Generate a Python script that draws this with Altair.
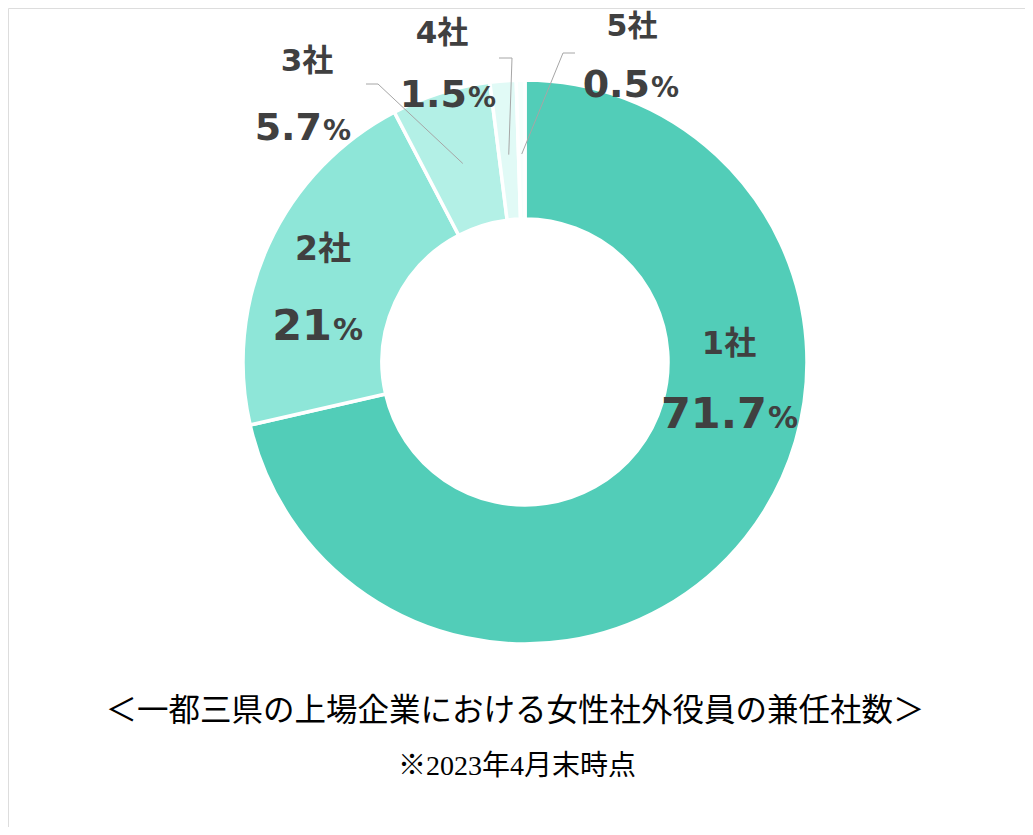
import math
import altair as alt
import pandas as pd

# ---- data ----
categories = ["1社", "2社", "3社", "4社", "5社"]
shares = [71.7, 21, 5.7, 1.5, 0.5]
share_texts = ["71.7", "21", "5.7", "1.5", "0.5"]
colors = ["#52CDB8", "#8EE6D8", "#B3F0E6", "#E1FAF6", "#F7FFFD"]

title_text = "＜一都三県の上場企業における女性社外役員の兼任社数＞"
note_text = "※2023年4月末時点"

# ---- layout (chart pixel space) ----
W, H = 1017, 819
CX, CY = 517, 354
R_OUT, R_IN = 282, 143
LABEL_FONT = "'DejaVu Sans', 'Noto Sans CJK JP', sans-serif"
TEXT_COLOR = "#404040"

# label anchors: category-label centre, number split x, number baseline y
label_layout = {
    "1社": dict(cx=721, cy=336, sx=759, by=420, cfs=32, nfs=43, pfs=30),
    "2社": dict(cx=315, cy=242, sx=324, by=332, cfs=33, nfs=43, pfs=30),
    "3社": dict(cx=299, cy=54, sx=314, by=132, cfs=31, nfs=38, pfs=28),
    "4社": dict(cx=434, cy=26, sx=459, by=99, cfs=31, nfs=38, pfs=28),
    "5社": dict(cx=624, cy=19, sx=642, by=89, cfs=30, nfs=38, pfs=28),
}
# leader line outer points (label side)
leader_layout = {
    "3社": [(358, 76), (370, 76)],
    "4社": [(491, 50), (504, 50)],
    "5社": [(567, 45), (555, 45)],
}
LEADER_R = 208

# ---- tables ----
df = pd.DataFrame({"category": categories, "share": shares,
                   "order": list(range(len(categories)))})

total = sum(shares)
cum = 0.0
mid_angle = {}
for c, s in zip(categories, shares):
    mid_angle[c] = (cum + s / 2) / total * 2 * math.pi
    cum += s

rows_cat, rows_num, rows_pct = [], [], []
for c, t in zip(categories, share_texts):
    L = label_layout[c]
    rows_cat.append(dict(x=L["cx"], y=L["cy"], text=c, fs=L["cfs"]))
    rows_num.append(dict(x=L["sx"], y=L["by"], text=t, fs=L["nfs"]))
    rows_pct.append(dict(x=L["sx"] + 1, y=L["by"], text="%", fs=L["pfs"]))
cat_df = pd.DataFrame(rows_cat)
num_df = pd.DataFrame(rows_num)
pct_df = pd.DataFrame(rows_pct)

leader_rows = []
for c, pts in leader_layout.items():
    a = mid_angle[c]
    inner = (CX + LEADER_R * math.sin(a), CY - LEADER_R * math.cos(a))
    for i, (px, py) in enumerate(pts + [inner]):
        leader_rows.append(dict(category=c, i=i, x=px, y=py))
leader_df = pd.DataFrame(leader_rows)

# ---- chart ----
arcs = alt.Chart(df).mark_arc(
    outerRadius=R_OUT, innerRadius=R_IN, stroke="white", strokeWidth=3.5
).encode(
    theta=alt.Theta("share:Q", stack=True),
    color=alt.Color("category:N", scale=alt.Scale(domain=categories, range=colors), legend=None),
    order=alt.Order("order:Q"),
    x=alt.value(CX),
    y=alt.value(CY),
)

xs = lambda: alt.X("x:Q", scale=None, axis=None)
ys = lambda: alt.Y("y:Q", scale=None, axis=None)

leaders = alt.Chart(leader_df).mark_line(color="#A6A6A6", strokeWidth=1).encode(
    x=xs(), y=ys(), detail="category:N", order="i:Q"
)

cat_text = alt.Chart(cat_df).mark_text(
    font=LABEL_FONT, fontWeight="bold", color=TEXT_COLOR, align="center", baseline="middle"
).encode(x=xs(), y=ys(), text="text:N", size=alt.Size("fs:Q", scale=None))

num_text = alt.Chart(num_df).mark_text(
    font=LABEL_FONT, fontWeight="bold", color=TEXT_COLOR, align="right", baseline="alphabetic"
).encode(x=xs(), y=ys(), text="text:N", size=alt.Size("fs:Q", scale=None))

pct_text = alt.Chart(pct_df).mark_text(
    font=LABEL_FONT, fontWeight="bold", color=TEXT_COLOR, align="left", baseline="alphabetic"
).encode(x=xs(), y=ys(), text="text:N", size=alt.Size("fs:Q", scale=None))

title = alt.Chart(pd.DataFrame({"t": [title_text]})).mark_text(
    font="'Noto Sans CJK JP'", fontSize=31.5, color="#000000", align="center", baseline="middle"
).encode(text="t:N", x=alt.value(507), y=alt.value(704))

note = alt.Chart(pd.DataFrame({"t": [note_text]})).mark_text(
    font="'Liberation Serif', 'Noto Sans CJK JP', serif", fontSize=28, color="#000000",
    align="center", baseline="middle"
).encode(text="t:N", x=alt.value(509), y=alt.value(759))

chart = alt.layer(arcs, leaders, cat_text, num_text, pct_text, title, note).properties(
    width=W, height=H, padding=0,
    autosize=alt.AutoSizeParams(type="none"),
).configure_view(strokeWidth=0, stroke="transparent").configure(background="white")

chart.save("out.html", embed_options={"renderer": "svg", "actions": False})
